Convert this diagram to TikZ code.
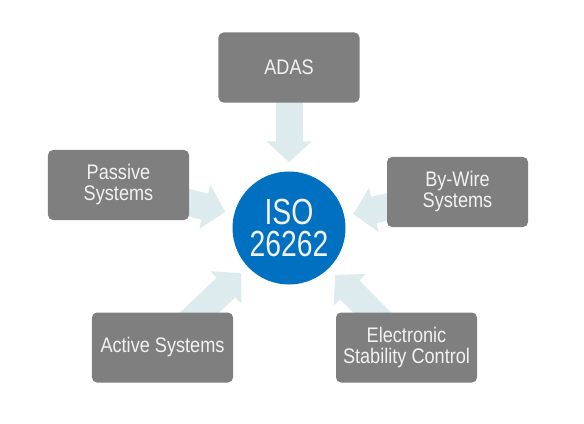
\documentclass[tikz,border=0pt]{standalone}
\usepackage{fontspec}
\setmainfont{Liberation Sans}[FakeStretch=0.86]
\newfontfamily\isofont{Liberation Sans}[FakeStretch=0.78]
\usetikzlibrary{arrows.meta, backgrounds}
\definecolor{boxgray}{RGB}{127,127,127}
\definecolor{isoblue}{RGB}{0,112,192}
\definecolor{arrowblue}{RGB}{221,235,239}
\definecolor{textwhite}{RGB}{242,242,242}
\tikzset{
  sys/.style={
    rectangle,
    rounded corners=0.15cm,
    minimum width=4.23cm,
    minimum height=2.1cm,
    inner sep=0pt,
    align=center,
    fill=boxgray,
    text=textwhite,
    font=\fontsize{18}{18}\selectfont
  },
  hub/.style={
    circle,
    minimum size=3.39cm,
    inner sep=0pt,
    align=center,
    fill=isoblue,
    text=textwhite,
    font=\isofont\fontsize{31}{28}\selectfont
  },
  bigarrow/.style={
    draw=arrowblue,
    line width=0.81cm,
    -{Triangle[length=0.63cm,width=1.32cm]},
    shorten >=0.27cm
  }
}

\begin{document}
\begin{tikzpicture}[x=0.03cm, y=-0.03cm]
      \useasboundingbox (0,0) rectangle (584,424);
      \node (iso) [hub] at (289,228) {ISO\\26262};
      \node (adas) [sys] at (289,67.5) {ADAS};
      \node (passive) [sys] at (118.5,185) {Passive\\Systems};
      \node (bywire) [sys] at (457.5,192) {By-Wire\\Systems};
      \node (active) [sys] at (162.5,347.5) {Active Systems};
      \node (esc) [sys] at (406.5,347.5) {Electronic\\Stability Control};
      \begin{scope}[on background layer]
        \foreach \src in {adas, passive, bywire, active, esc}
          \draw[bigarrow] (\src.center) -- (iso);
      \end{scope}
\end{tikzpicture}
\end{document}
